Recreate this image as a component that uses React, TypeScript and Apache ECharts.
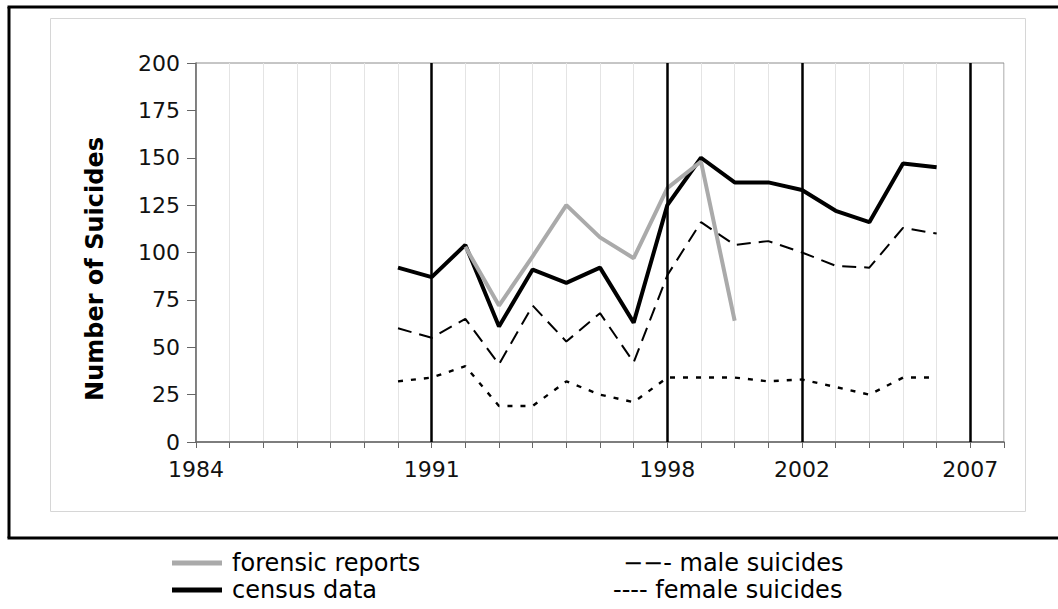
import React, { useEffect, useRef } from "react";
import * as echarts from "echarts";

const years = [1990, 1991, 1992, 1993, 1994, 1995, 1996, 1997, 1998, 1999, 2000, 2001, 2002, 2003, 2004, 2005, 2006];
const census = [92, 87, 104, 61, 91, 84, 92, 63, 125, 150, 137, 137, 133, 122, 116, 147, 145];
const male = [60, 55, 65, 41, 72, 53, 68, 42, 88, 116, 104, 106, 100, 93, 92, 113, 110];
const female = [32, 34, 40, 19, 19, 32, 25, 21, 34, 34, 34, 32, 33, 29, 25, 34, 34];
const forensicYears = [1992, 1993, 1994, 1995, 1996, 1997, 1998, 1999, 2000];
const forensic = [103, 72, 98, 125, 108, 97, 134, 148, 64];
const xLabelYears = [1984, 1991, 1998, 2002, 2007];
const markerYears = [1991, 1998, 2002, 2007];
const yTitle = "Number of Suicides";
const legendLeft = ["forensic reports", "census data"];
const legendRight = ["\u2212\u2212- male suicides", "---- female suicides"];

const pair = (xs: number[], ys: number[]) => xs.map((x, i) => [x, ys[i]]);

export default function App() {
  const ref = useRef<HTMLDivElement>(null);
  useEffect(() => {
    document.body.style.margin = "0";
    const chart = echarts.init(ref.current!, null, { renderer: "svg" });
    const axisFont = "DejaVu Sans";
    const legFont = "DejaVu Sans";
    chart.setOption({
      animation: false,
      backgroundColor: "#fff",
      grid: {
        left: 196,
        top: 63,
        right: 54,
        bottom: 167,
        show: true,
        borderColor: "#8c8c8c",
        borderWidth: 1,
        backgroundColor: "transparent",
      },
      xAxis: {
        type: "value",
        min: 1984,
        max: 2008,
        interval: 1,
        axisLine: { show: true, lineStyle: { color: "#666", width: 1.5 } },
        axisTick: { show: true, length: 6, lineStyle: { color: "#666" } },
        splitLine: { show: true, lineStyle: { color: "#e4e4e4", width: 1 } },
        axisLabel: {
          fontFamily: axisFont,
          fontSize: 22,
          color: "#111",
          margin: 16,
          formatter: (v: number) => (xLabelYears.includes(v) ? String(v) : ""),
        },
      },
      yAxis: {
        type: "value",
        min: 0,
        max: 200,
        interval: 25,
        axisLine: { show: true, lineStyle: { color: "#666", width: 1.5 } },
        axisTick: { show: true, length: 9, lineStyle: { color: "#666" } },
        splitLine: { show: false },
        axisLabel: { fontFamily: axisFont, fontSize: 22, color: "#111", margin: 16 },
      },
      series: [
        {
          name: "census data",
          type: "line",
          data: pair(years, census),
          symbol: "none",
          lineStyle: { color: "#000", width: 4 },
          markLine: {
            silent: true,
            symbol: ["none", "none"],
            label: { show: false },
            lineStyle: { color: "#000", width: 2.5, type: "solid" },
            data: markerYears.map((y) => ({ xAxis: y })),
          },
          z: 3,
        },
        {
          name: "forensic reports",
          type: "line",
          data: pair(forensicYears, forensic),
          symbol: "none",
          lineStyle: { color: "#aaaaaa", width: 4 },
          z: 4,
        },
        {
          name: "male suicides",
          type: "line",
          data: pair(years, male),
          symbol: "none",
          lineStyle: { color: "#000", width: 2, type: [14, 8] },
          z: 2,
        },
        {
          name: "female suicides",
          type: "line",
          data: pair(years, female),
          symbol: "none",
          lineStyle: { color: "#000", width: 2.4, type: [5, 8] },
          z: 2,
        },
      ],
      graphic: [
        { type: "line", shape: { x1: 9, y1: 7, x2: 9, y2: 538 }, style: { stroke: "#000", lineWidth: 3 } },
        { type: "line", shape: { x1: 7.5, y1: 7, x2: 1058, y2: 7 }, style: { stroke: "#000", lineWidth: 3 } },
        { type: "line", shape: { x1: 7.5, y1: 538, x2: 1058, y2: 538 }, style: { stroke: "#000", lineWidth: 3 } },
        { type: "rect", shape: { x: 50.5, y: 18.5, width: 975, height: 493 }, style: { fill: "none", stroke: "#d6d6d6", lineWidth: 1 } },
        {
          type: "text",
          x: 95,
          y: 269,
          rotation: Math.PI / 2,
          style: { text: yTitle, fontFamily: axisFont, fontSize: 24, fontWeight: "bold", fill: "#000", align: "center", verticalAlign: "middle" },
        },
        { type: "line", shape: { x1: 172, y1: 563, x2: 222, y2: 563 }, style: { stroke: "#aaaaaa", lineWidth: 5 } },
        { type: "line", shape: { x1: 172, y1: 590, x2: 222, y2: 590 }, style: { stroke: "#000", lineWidth: 5 } },
        { type: "text", x: 232, y: 563, style: { text: legendLeft[0], fontFamily: legFont, fontSize: 24, fill: "#000", verticalAlign: "middle" } },
        { type: "text", x: 232, y: 590, style: { text: legendLeft[1], fontFamily: legFont, fontSize: 24, fill: "#000", verticalAlign: "middle" } },
        { type: "text", x: 623, y: 563, style: { text: legendRight[0], fontFamily: legFont, fontSize: 24, fill: "#000", verticalAlign: "middle" } },
        { type: "text", x: 613, y: 590, style: { text: legendRight[1], fontFamily: legFont, fontSize: 24, fill: "#000", verticalAlign: "middle" } },
      ],
    });
    return () => chart.dispose();
  }, []);
  return <div ref={ref} style={{ width: 1058, height: 609 }} />;
}
